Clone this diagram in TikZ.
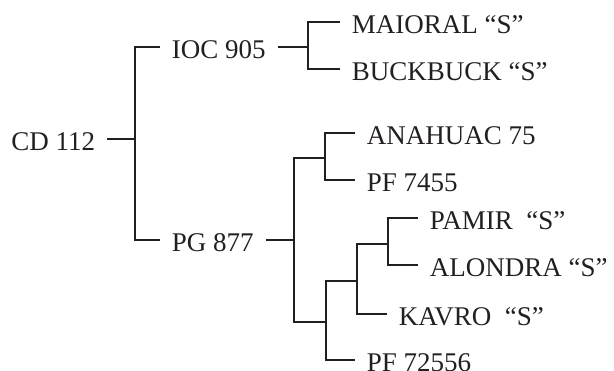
\documentclass[tikz,border=0pt]{standalone}
\usepackage{fontspec}
\setmainfont{Liberation Serif}
\usepackage{xcolor}
\usepackage{tikz}
\usetikzlibrary{positioning, calc}
\definecolor{ink}{HTML}{231F20}

\begin{document}
\begin{tikzpicture}[x=1pt, y=-1pt, line width=1.8pt, draw=ink,
  every node/.style={font=\fontsize{27}{32}\selectfont, text=ink},
  lbl/.style={inner xsep=11pt, inner ysep=0pt, text height=24pt, text depth=0pt}]
\useasboundingbox (0,0) rectangle (614,371);

% Junctions
\coordinate (j1) at (135,139);
\coordinate (j2) at (308,47);
\coordinate (j3) at (294,240);
\coordinate (j4) at (325,158);
\coordinate (j5) at (326,322);
\coordinate (j6) at (357,281);
\coordinate (j7) at (388,244);

% Root and first split
\node[lbl, anchor=east] (cd) at (107,139) {CD 112};
\node[lbl, anchor=west] (ioc) at (160,47) {IOC 905};
\node[lbl, anchor=west] (pg) at (160,240) {PG 877};

% Upper branch
\node[lbl, anchor=west] (maioral) at (340,22) {MAIORAL “S”};
\node[lbl, anchor=west] (buckbuck) at (340,69) {BUCKBUCK “S”};

% Lower branch
\node[lbl, anchor=west] (anahuac) at (355,133) {ANAHUAC 75};
\node[lbl, anchor=west] (pf7455) at (355,180) {PF 7455};
\node[lbl, anchor=west] (pamir) at (418,218) {PAMIR\ \ “S”};
\node[lbl, anchor=west] (alondra) at (418,265) {ALONDRA “S”};
\node[lbl, anchor=west] (kavro) at (387,314) {KAVRO\ \ “S”};
\node[lbl, anchor=west] (pf72556) at (355,360) {PF 72556};

% Connections
\draw (cd.east) -- (j1);
\draw (ioc.west) -| (j1) |- (pg.west);
\draw (ioc.east) -- (j2);
\draw (maioral.west) -| (j2) |- (buckbuck.west);
\draw (pg.east) -- (j3);
\draw (j4) -| (j3) |- (j5);
\draw (anahuac.west) -| (j4) |- (pf7455.west);
\draw (j6) -| (j5) |- (pf72556.west);
\draw (j7) -| (j6) |- (kavro.west);
\draw (pamir.west) -| (j7) |- (alondra.west);
\end{tikzpicture}
\end{document}
